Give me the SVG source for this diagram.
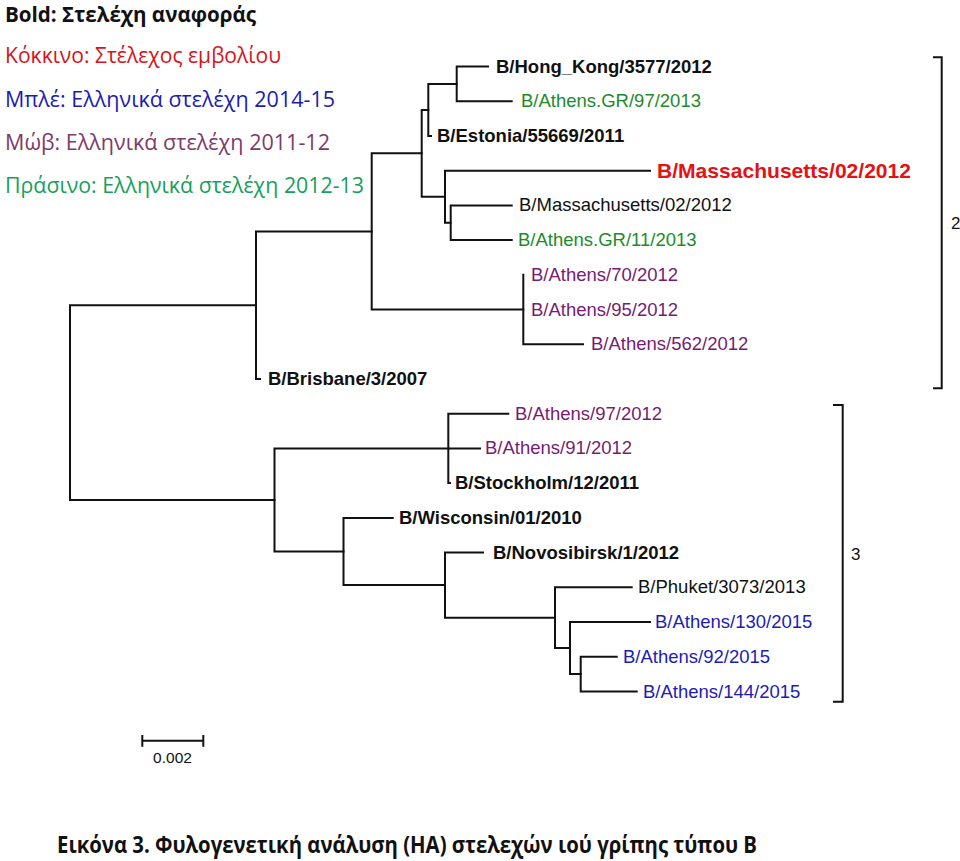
<svg xmlns="http://www.w3.org/2000/svg" width="960" height="861" viewBox="0 0 960 861">
<style>
.leg{font-family:"Open Sans","Noto Sans",sans-serif;font-size:21.5px}
.lb{font-family:"Liberation Sans",Arial,sans-serif;font-size:18.5px;fill:#111}
.b{font-weight:bold}
.g{fill:#1e8a2a}
.p{fill:#761c74}
.bl{fill:#1c1cb4}
.r{fill:#e41212}
.tree path{fill:none;stroke:#111;stroke-width:2;stroke-linecap:square}
.br{fill:none;stroke:#111;stroke-width:2}
.sm{font-family:"Liberation Sans",Arial,sans-serif;font-size:15.5px;fill:#111}
.num{font-family:"Liberation Sans",Arial,sans-serif;font-size:17px;fill:#111}
</style>
<rect width="960" height="861" fill="#fff"/>
<g id="legend">
<text class="leg" x="5" y="22" font-weight="bold" fill="#111" textLength="251" lengthAdjust="spacingAndGlyphs">Bold: Στελέχη αναφοράς</text>
<text class="leg" x="5" y="63.3" fill="#d4141c" textLength="276" lengthAdjust="spacingAndGlyphs">Κόκκινο: Στέλεχος εμβολίου</text>
<text class="leg" x="5" y="106.7" fill="#1c1cb0" textLength="330" lengthAdjust="spacingAndGlyphs">Μπλέ: Ελληνικά στελέχη 2014-15</text>
<text class="leg" x="5" y="150" fill="#7e3a6c" textLength="325" lengthAdjust="spacingAndGlyphs">Μώβ: Ελληνικά στελέχη 2011-12</text>
<text class="leg" x="5" y="193.3" fill="#16a05c" textLength="359" lengthAdjust="spacingAndGlyphs">Πράσινο: Ελληνικά στελέχη 2012-13</text>
</g>
<g id="connectors" class="tree">
<path d="M456.7,66.5V101.2M456.7,66.5H488M456.7,101.2H511.7"/>
<path d="M428.3,83.9V135.9M428.3,83.9H456.7M428.3,135.9H431"/>
<path d="M450.7,205.4V240.1M450.7,205.4H511.7M450.7,240.1H511.7"/>
<path d="M445,170.7V222.8M445,170.7H650M445,222.8H450.7"/>
<path d="M421.7,109.9V196.7M421.7,109.9H428.3M421.7,196.7H445"/>
<path d="M523.3,274.8V344.3M523.3,344.3H583"/>
<path d="M371.7,153.3V309.5M371.7,153.3H421.7M371.7,309.5H523.3"/>
<path d="M256,231.4V379M256,231.4H371.7M256,379H260"/>
<path d="M70,305.2V500M70,305.2H256M70,500H274.5"/>
<path d="M448.3,413.7V483.1M448.3,413.7H508.3M448.3,448.4H480M448.3,483.1H450"/>
<path d="M274.5,448.4V551.5M274.5,448.4H448.3M274.5,551.5H343.5"/>
<path d="M343.5,517.9V585.1M343.5,517.9H392.7M343.5,585.1H445"/>
<path d="M445,552.6V617.7M445,552.6H483M445,617.7H555"/>
<path d="M555,587.3V648M555,587.3H631.7M555,648H570"/>
<path d="M570,622V674.1M570,622H650M570,674.1H580.7"/>
<path d="M580.7,656.7V691.5M580.7,656.7H616.7M580.7,691.5H636.7"/>
</g>
<g id="n-hongkong"><text class="lb b" x="496" y="72.5">B/Hong_Kong/3577/2012</text></g>
<g id="n-athensgr97"><text class="lb g" x="521" y="107.2">B/Athens.GR/97/2013</text></g>
<g id="n-estonia"><text class="lb b" x="437" y="141.9">B/Estonia/55669/2011</text></g>
<g id="n-mass-red"><text class="lb b r" x="657" y="178.2" style="font-size:21px" textLength="254" lengthAdjust="spacingAndGlyphs">B/Massachusetts/02/2012</text></g>
<g id="n-mass"><text class="lb" x="519" y="211.4">B/Massachusetts/02/2012</text></g>
<g id="n-athensgr11"><text class="lb g" x="518" y="246.1">B/Athens.GR/11/2013</text></g>
<g id="n-athens70"><text class="lb p" x="531" y="280.8">B/Athens/70/2012</text></g>
<g id="n-athens95"><text class="lb p" x="531" y="315.5">B/Athens/95/2012</text></g>
<g id="n-athens562"><text class="lb p" x="591" y="350.3">B/Athens/562/2012</text></g>
<g id="n-brisbane"><text class="lb b" x="268" y="385">B/Brisbane/3/2007</text></g>
<g id="n-athens97"><text class="lb p" x="515" y="419.7">B/Athens/97/2012</text></g>
<g id="n-athens91"><text class="lb p" x="485" y="454.4">B/Athens/91/2012</text></g>
<g id="n-stockholm"><text class="lb b" x="455" y="489.1">B/Stockholm/12/2011</text></g>
<g id="n-wisconsin"><text class="lb b" x="399" y="523.9">B/Wisconsin/01/2010</text></g>
<g id="n-novosibirsk"><text class="lb b" x="493" y="558.6">B/Novosibirsk/1/2012</text></g>
<g id="n-phuket"><text class="lb" x="638" y="593.3">B/Phuket/3073/2013</text></g>
<g id="n-athens130"><text class="lb bl" x="655" y="628">B/Athens/130/2015</text></g>
<g id="n-athens92"><text class="lb bl" x="623" y="662.7">B/Athens/92/2015</text></g>
<g id="n-athens144"><text class="lb bl" x="643" y="697.5">B/Athens/144/2015</text></g>
<g id="clade2">
<path class="br" d="M933,57.3H941.7V388.3H933"/>
<text class="num" x="951" y="228.5">2</text>
</g>
<g id="clade3">
<path class="br" d="M833,405H842.7V701.7H833"/>
<text class="num" x="851" y="559.5">3</text>
</g>
<g id="scalebar">
<path class="br" d="M142.3,740.7H203.3M142.3,735V746.7M203.3,735V746.7"/>
<text class="sm" x="172.5" y="762.5" text-anchor="middle">0.002</text>
</g>
<g id="caption">
<text class="leg" x="57" y="853" style="font-size:23px" font-weight="bold" fill="#111" textLength="700" lengthAdjust="spacingAndGlyphs">Εικόνα 3. Φυλογενετική ανάλυση (HA) στελεχών ιού γρίπης τύπου B</text>
</g>
</svg>
